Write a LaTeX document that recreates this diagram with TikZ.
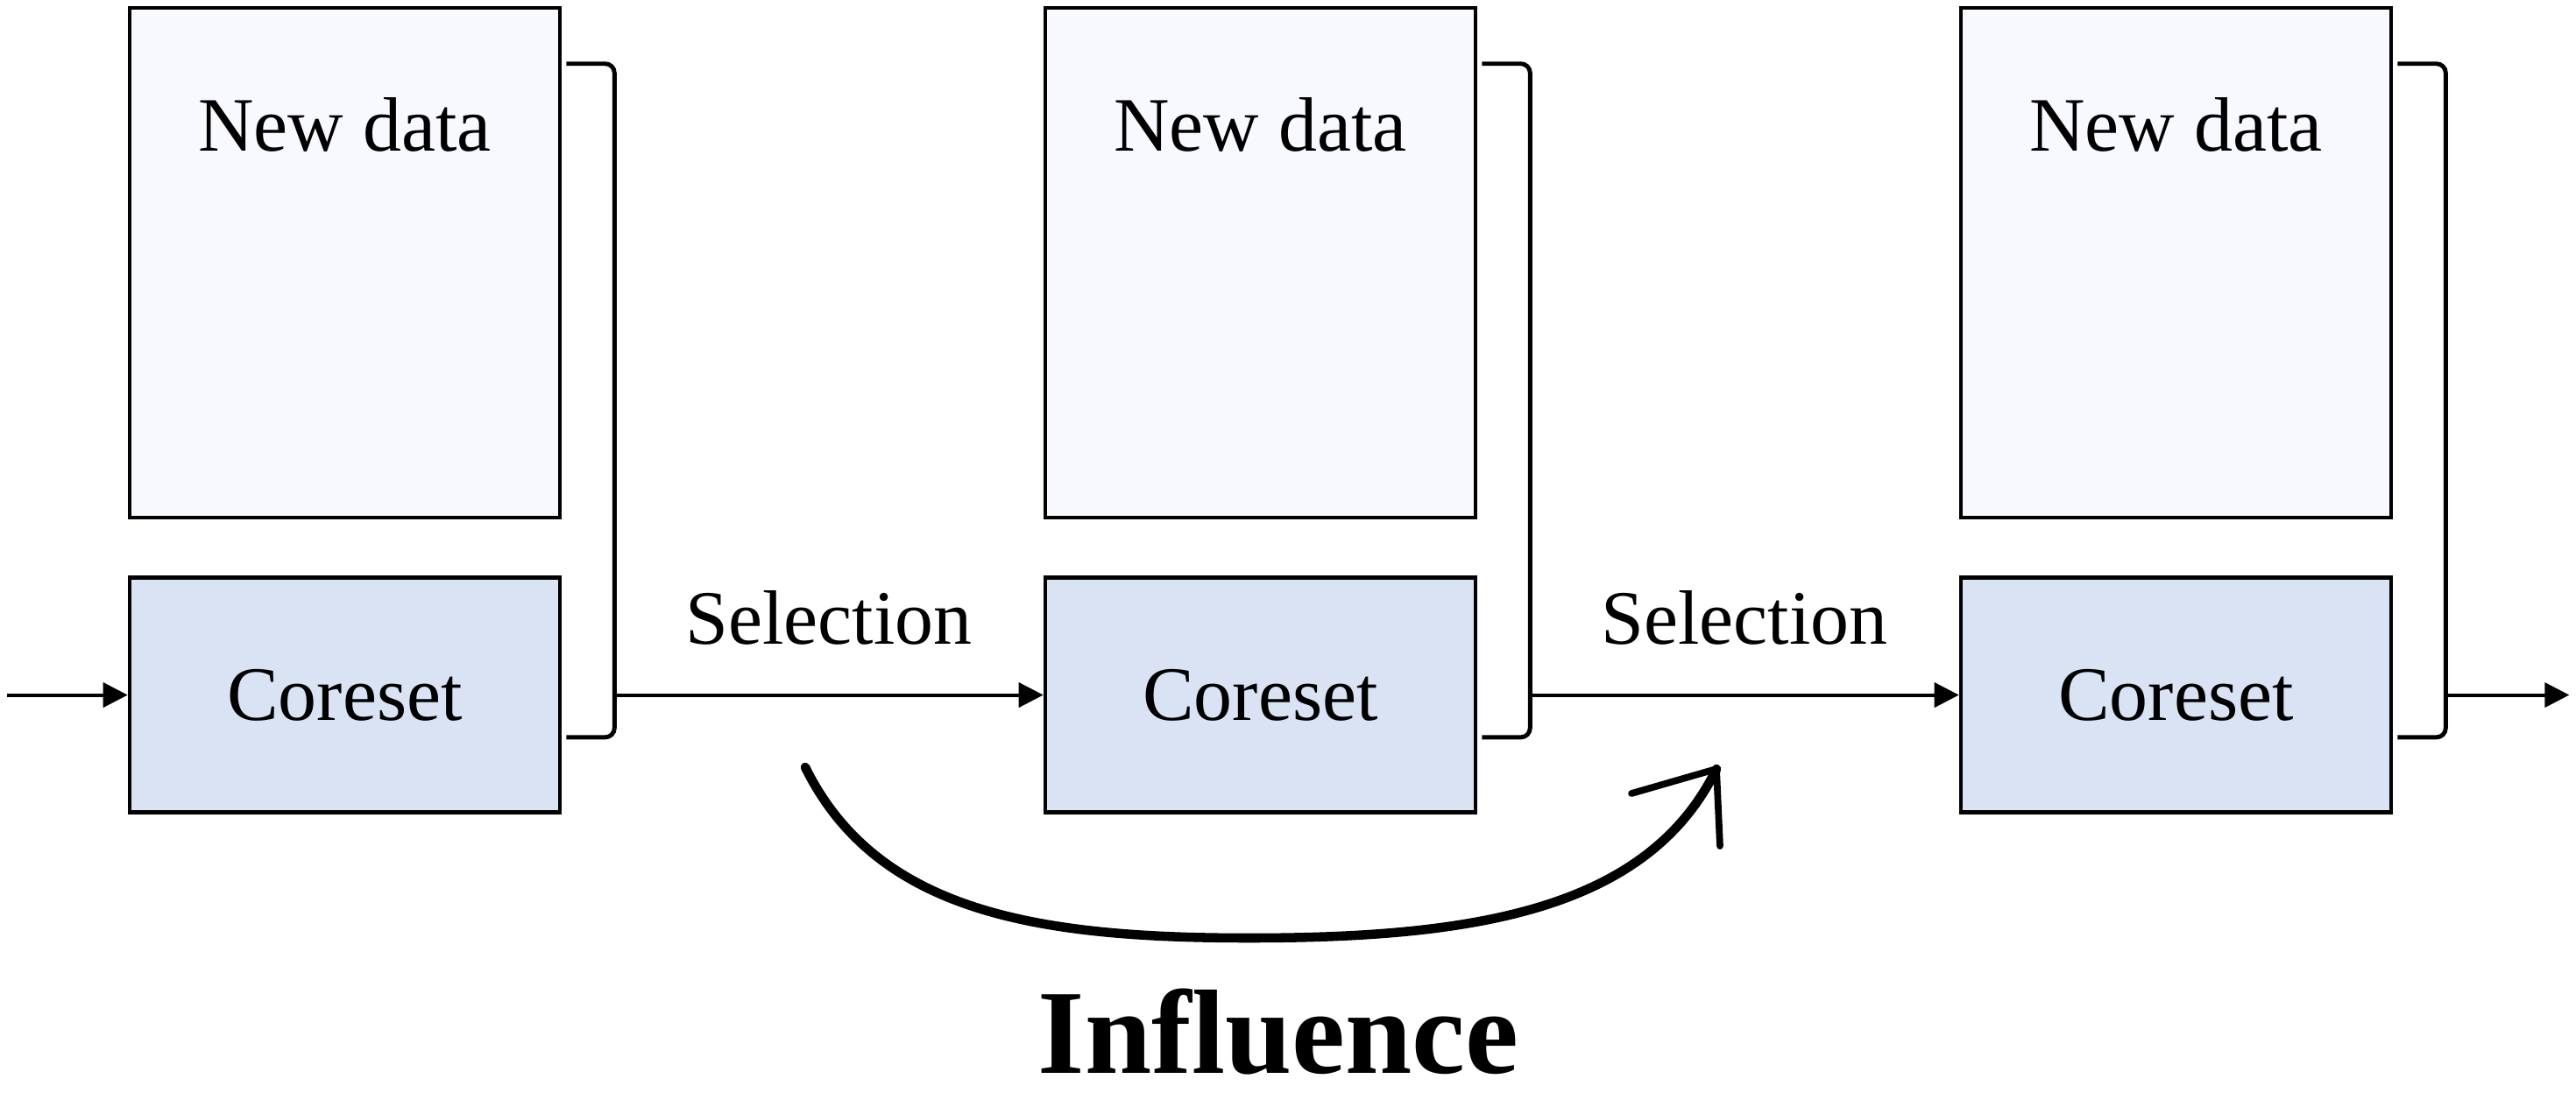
\documentclass[tikz,border=0pt]{standalone}
\usepackage{fontspec}
\setmainfont{Liberation Serif}
\usepackage{tikz}
\usetikzlibrary{arrows.meta,positioning,calc}

\definecolor{newfill}{RGB}{248,249,254}
\definecolor{corefill}{RGB}{218,227,243}

\begin{document}
\begin{tikzpicture}[
newdata/.style={rectangle, draw=black, line width=1.3pt, fill=newfill, minimum width=4.91cm, minimum height=5.82cm},
coreset/.style={rectangle, draw=black, line width=1.3pt, fill=corefill, minimum width=4.91cm, minimum height=2.68cm, font=\fontsize{25}{30}\selectfont},
txt/.style={font=\fontsize{25}{30}\selectfont, inner sep=0pt},
flow/.style={-{Triangle[length=0.28cm,width=0.28cm]}, line width=1.1pt},
bracket/.style={line width=1.4pt, rounded corners=3pt},
influence/.style={line width=3pt, line cap=round, line join=round},
]
\useasboundingbox (0,0) rectangle (29.4,-12.56);

% Define the three columns using coordinates
\coordinate (col1) at (3.935,-3.0);    % Left
\coordinate (col2) at (14.385,-3.0);   % Middle
\coordinate (col3) at (24.835,-3.0);   % Right

% Boxes at column points
\node[newdata] (new1) at (col1) {};
\node[newdata] (new2) at (col2) {};
\node[newdata] (new3) at (col3) {};

\node[coreset, below=0.64cm of new1] (core1) {Coreset};
\node[coreset, below=0.64cm of new2] (core2) {Coreset};
\node[coreset, below=0.64cm of new3] (core3) {Coreset};

\node[txt] (newtxt1) at ($(new1.north)+(0,-1.36)$) {New data};
\node[txt] (newtxt2) at ($(new2.north)+(0,-1.36)$) {New data};
\node[txt] (newtxt3) at ($(new3.north)+(0,-1.36)$) {New data};

% Brackets round each pair
\coordinate (br1top) at ($(new1.north east)+(0.05,-0.66)$);
\coordinate (br1bot) at ($(core1.south east)+(0.05,0.88)$);
\coordinate (br1out) at ($(core1.east)+(0.6,0)$);
\coordinate (br2top) at ($(new2.north east)+(0.05,-0.66)$);
\coordinate (br2bot) at ($(core2.south east)+(0.05,0.88)$);
\coordinate (br2out) at ($(core2.east)+(0.6,0)$);
\coordinate (br3top) at ($(new3.north east)+(0.05,-0.66)$);
\coordinate (br3bot) at ($(core3.south east)+(0.05,0.88)$);
\coordinate (br3out) at ($(core3.east)+(0.6,0)$);

\draw[bracket] (br1top) -- ++(0.55,0) |- (br1bot);
\draw[bracket] (br2top) -- ++(0.55,0) |- (br2bot);
\draw[bracket] (br3top) -- ++(0.55,0) |- (br3bot);

% Draw connecting arrows
\coordinate (start) at ($(core1.west)+(-1.38,0)$);
\coordinate (finish) at ($(core3.east)+(2.01,0)$);
\draw[flow] (start) -- (core1);
\draw[flow] (br1out) -- (core2);
\draw[flow] (br2out) -- (core3);
\draw[flow] (br3out) -- (finish);

\node[txt] (sel1) at ($(br1out)!0.5!(core2.west)+(0,0.88)$) {Selection};
\node[txt] (sel2) at ($(br2out)!0.5!(core3.west)+(0,0.88)$) {Selection};

% Influence arrow
\coordinate (infl_s) at (9.19,-8.76);
\coordinate (infl_m) at (14.25,-10.71);
\coordinate (infl_e) at (19.59,-8.78);
\draw[influence] (infl_s) .. controls (10.0,-10.4) and (11.8,-10.71) .. (infl_m)
  .. controls (16.8,-10.71) and (18.8,-10.4) .. (infl_e);
\draw[influence, line width=2.2pt] ($(infl_e)+(-0.97,-0.28)$) -- (infl_e) -- ($(infl_e)+(0.04,-0.88)$);
\node[font=\bfseries\fontsize{39}{46}\selectfont, inner sep=0pt] (infl) at (14.59,-11.78) {Influence};

\end{tikzpicture}
\end{document}
